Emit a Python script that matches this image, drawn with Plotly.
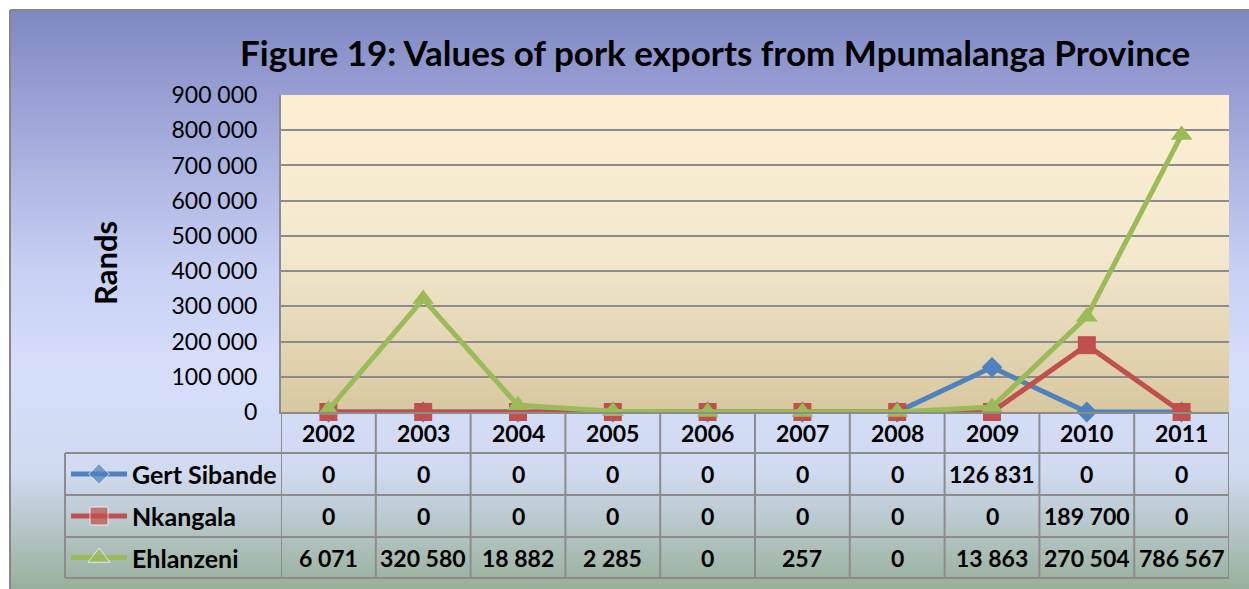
import base64, struct, zlib
import plotly.graph_objects as go

# ---------------- data ----------------
years = ["2002", "2003", "2004", "2005", "2006", "2007", "2008", "2009", "2010", "2011"]
gert_sibande = [0, 0, 0, 0, 0, 0, 0, 126831, 0, 0]
nkangala = [0, 0, 0, 0, 0, 0, 0, 0, 189700, 0]
ehlanzeni = [6071, 320580, 18882, 2285, 0, 257, 0, 13863, 270504, 786567]
series_names = ["Gert Sibande", "Nkangala", "Ehlanzeni"]
y_ticks = [0, 100000, 200000, 300000, 400000, 500000, 600000, 700000, 800000, 900000]
title = "Figure 19: Values of pork exports from Mpumalanga Province"
y_title = "Rands"

# ---------------- style ----------------
W, H = 1249, 589
colors = ["#4f81bd", "#c0504d", "#9bbb59"]
symbols = ["diamond", "square", "triangle-up"]
msizes = [16, 18, 19]
grid = "#8c8c8c"
FONT = "Lato"

PL, PR, PT, PB = 281, 1229, 95, 412  # plot area px
ROWS = [412, 453, 495, 537, 578]      # table row borders px
LEG_L = 65


def px_x(x):
    return x / W


def px_y(y):
    return 1 - y / H


def png_uri(rows, width=2):
    raw = b"".join(b"\x00" + bytes(c) * width for c in rows)

    def chunk(t, d):
        c = struct.pack(">I", len(d)) + t + d
        return c + struct.pack(">I", zlib.crc32(t + d) & 0xffffffff)

    png = b"\x89PNG\r\n\x1a\n"
    png += chunk(b"IHDR", struct.pack(">IIBBBBB", width, len(rows), 8, 2, 0, 0, 0))
    png += chunk(b"IDAT", zlib.compress(raw, 9))
    png += chunk(b"IEND", b"")
    return "data:image/png;base64," + base64.b64encode(png).decode()


def gradient(stops, n):
    out = []
    for i in range(n):
        t = i / (n - 1)
        for j in range(len(stops) - 1):
            t0, c0 = stops[j]
            t1, c1 = stops[j + 1]
            if t0 <= t <= t1:
                f = (t - t0) / (t1 - t0) if t1 > t0 else 0
                out.append(tuple(int(round(c0[k] + (c1[k] - c0[k]) * f)) for k in range(3)))
                break
    return out


bg_rows = gradient([(0.0, (128, 136, 196)), (0.45, (200, 208, 244)), (0.62, (214, 222, 250)),
                    (0.80, (208, 218, 240)), (1.0, (152, 176, 155))], H - 10)
pa_rows = gradient([(0.0, (254, 239, 211)), (0.5, (243, 232, 206)), (1.0, (216, 200, 160))], PB - PT)

fig = go.Figure()

for name, vals, c, s, ms in zip(series_names, [gert_sibande, nkangala, ehlanzeni], colors, symbols, msizes):
    fig.add_trace(go.Scatter(
        x=years, y=vals, name=name, mode="lines+markers",
        line=dict(color=c, width=5),
        marker=dict(symbol=s, size=ms, color=c),
        cliponaxis=False, showlegend=False, xaxis="x", yaxis="y"))

# legend keys in the table's first column
leg_y = [(ROWS[i + 1] + ROWS[i + 2]) / 2 for i in range(3)]
for name, c, s, ms, yy in zip(series_names, colors, symbols, msizes, leg_y):
    fig.add_trace(go.Scatter(
        x=[71, 99, 127], y=[yy, yy, yy], mode="lines+markers",
        line=dict(color=c, width=5),
        marker=dict(symbol=s, size=[0, ms, 0], color=c),
        cliponaxis=False, showlegend=False, xaxis="x2", yaxis="y2", hoverinfo="skip"))

shapes = []
# outer chart border (left and top visible)
bl = dict(color="#878787", width=2)
shapes.append(dict(type="line", xref="paper", yref="paper", x0=px_x(10), x1=px_x(10),
                   y0=0, y1=px_y(10), line=bl, layer="above"))
shapes.append(dict(type="line", xref="paper", yref="paper", x0=px_x(10), x1=1,
                   y0=px_y(10), y1=px_y(10), line=bl, layer="above"))
# table lines
tl = dict(color=grid, width=2)
for r in ROWS[1:]:
    shapes.append(dict(type="line", xref="paper", yref="paper", x0=px_x(LEG_L), x1=px_x(PR),
                       y0=px_y(r), y1=px_y(r), line=tl))
for i in range(len(years) + 1):
    shapes.append(dict(type="line", xref="x", yref="paper", x0=i - 0.5, x1=i - 0.5,
                       y0=px_y(ROWS[0]), y1=px_y(ROWS[-1]), line=tl))
shapes.append(dict(type="line", xref="paper", yref="paper", x0=px_x(LEG_L), x1=px_x(LEG_L),
                   y0=px_y(ROWS[1]), y1=px_y(ROWS[-1]), line=tl))


def fmt(v):
    return f"{v:,}".replace(",", " ")


ann = []
tfont = dict(family=FONT, size=23, color="black")
nfont = dict(family=FONT, size=25, color="black")
row_c = [(ROWS[i] + ROWS[i + 1]) / 2 for i in range(4)]
for i, yr in enumerate(years):
    ann.append(dict(x=i, y=px_y(row_c[0]), xref="x", yref="paper", text=f"<b>{yr}</b>",
                    showarrow=False, font=tfont, xanchor="center", yanchor="middle"))
    for r, vals in enumerate([gert_sibande, nkangala, ehlanzeni]):
        ann.append(dict(x=i, y=px_y(row_c[r + 1]), xref="x", yref="paper", text=f"<b>{fmt(vals[i])}</b>",
                        showarrow=False, font=tfont, xanchor="center", yanchor="middle"))
for r, name in enumerate(series_names):
    ann.append(dict(x=px_x(130), y=px_y(row_c[r + 1]), xref="paper", yref="paper", text=f"<b>{name}</b>",
                    showarrow=False, font=nfont, xanchor="left", yanchor="middle"))
ann.append(dict(x=px_x(715), y=px_y(52), xref="paper", yref="paper", text=f"<b>{title}</b>",
                showarrow=False, font=dict(family=FONT, size=35, color="black"),
                xanchor="center", yanchor="middle"))
ann.append(dict(x=px_x(105), y=px_y(263), xref="paper", yref="paper", text=f"<b>{y_title}</b>",
                showarrow=False, textangle=-90, font=dict(family=FONT, size=31, color="black"),
                xanchor="center", yanchor="middle"))

images = [
    dict(source=png_uri(bg_rows), xref="paper", yref="paper", x=px_x(10), y=px_y(10),
         sizex=1 - px_x(10), sizey=px_y(10), sizing="stretch", xanchor="left", yanchor="top", layer="below"),
    dict(source=png_uri(pa_rows), xref="paper", yref="paper", x=px_x(PL), y=px_y(PT),
         sizex=px_x(PR) - px_x(PL), sizey=px_y(PT) - px_y(PB), sizing="stretch",
         xanchor="left", yanchor="top", layer="below"),
]

fig.update_layout(
    width=W, height=H, autosize=False,
    margin=dict(l=0, r=0, t=0, b=0, pad=0, autoexpand=False),
    paper_bgcolor="white", plot_bgcolor="rgba(0,0,0,0)",
    separators=". ",
    font=dict(family=FONT, color="black"),
    xaxis=dict(domain=[px_x(PL), px_x(PR)], type="category", range=[-0.5, 9.5], automargin=False,
               showgrid=False, showticklabels=False, ticks="", zeroline=False,
               showline=True, linecolor=grid, linewidth=2, fixedrange=True),
    yaxis=dict(domain=[px_y(PB), px_y(PT)], range=[0, 900000], tickvals=y_ticks, tickformat=",d",
               automargin=False,
               showgrid=True, gridcolor=grid, gridwidth=2, zeroline=False,
               showline=True, linecolor=grid, linewidth=2, ticks="",
               ticklabelstandoff=17, tickfont=dict(family=FONT, size=23, color="black"), fixedrange=True),
    xaxis2=dict(domain=[px_x(LEG_L), px_x(PL)], range=[LEG_L, PL], visible=False, anchor="y2",
                automargin=False, fixedrange=True),
    yaxis2=dict(domain=[px_y(ROWS[-1]), px_y(ROWS[1])], range=[ROWS[-1], ROWS[1]], visible=False,
                anchor="x2", automargin=False, fixedrange=True),
    shapes=shapes, annotations=ann, images=images,
)

fig.write_html("out.html", config={"displayModeBar": False},
               post_script="document.body.style.margin='0px';document.body.style.overflow='hidden';")
